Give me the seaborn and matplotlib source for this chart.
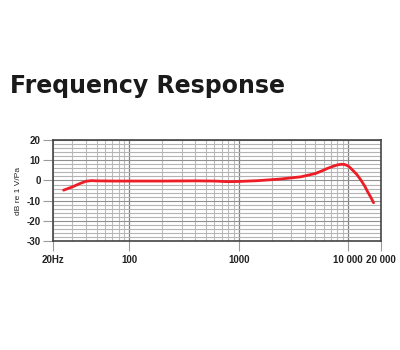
import numpy as np
import pandas as pd
import seaborn as sns
import matplotlib.pyplot as plt
from matplotlib.ticker import FixedLocator, NullFormatter

# frequency response
freq_hz = [25, 30, 35, 40, 45, 50, 70, 100, 200, 400, 600, 800, 1000, 1500, 2400,
           3700, 5000, 5800, 6500, 7300, 8000, 8700, 9300, 10000, 10600, 12000, 13100,
           14200, 15100, 16200, 17100]
level_db = [-4.8, -3.2, -1.6, -0.4, -0.1, -0.2, -0.3, -0.3, -0.3, -0.2, -0.3, -0.6, -0.5, -0.1, 0.7,
            1.8, 3.4, 4.8, 6.0, 7.0, 7.7, 8.0, 7.9, 7.2, 6.0, 3.0, 0.2,
            -2.8, -5.6, -8.5, -11.0]

x_ticks = [20, 100, 1000, 10000, 20000]
x_labels = ["20Hz", "100", "1000", "10 000", "20 000"]
y_ticks = [-30, -20, -10, 0, 10, 20]

df = pd.DataFrame({"freq": freq_hz, "db": level_db})

sns.set_style("white")
plt.rcParams["axes.unicode_minus"] = False
plt.rcParams["font.family"] = ["Liberation Sans", "DejaVu Sans"]

fig = plt.figure(figsize=(4, 3.5), dpi=100)
ax = fig.add_axes([0.1325, 0.311, 0.82, 0.289])

# grid: minor lines light, decades darker
minor_x = [m * d for d in (10, 100, 1000) for m in range(2, 10)] + [20000]
for x in minor_x:
    ax.axvline(x, color="#bcbcbc", lw=0.8, zorder=0)
for x in (100, 1000, 10000):
    ax.axvline(x, color="#808080", lw=0.9, zorder=0)
for y in range(-30, 21, 2):
    ax.axhline(y, color="#b4b4b4" if y % 10 else "#909090", lw=0.8, zorder=0)

sns.lineplot(data=df, x="freq", y="db", color="#ee1c25", lw=2.0, sort=False, ax=ax, zorder=3)

ax.set_xscale("log")
ax.set_xlim(20, 20000)
ax.set_ylim(-30, 20)
ax.xaxis.set_major_locator(FixedLocator(x_ticks))
ax.set_xticklabels(x_labels)
ax.xaxis.set_minor_formatter(NullFormatter())
ax.xaxis.set_minor_locator(FixedLocator([]))
ax.set_yticks(y_ticks)
ax.tick_params(axis="both", which="major", direction="out", length=7, width=0.8,
               color="#9a9a9a", labelsize=7, labelcolor="#222222",
               bottom=True, left=True)
ax.tick_params(axis="x", pad=3)
ax.tick_params(axis="y", pad=2)
for lab in ax.get_xticklabels() + ax.get_yticklabels():
    lab.set_fontweight("bold")

ax.set_xlabel("")
ax.set_ylabel("dB re 1 V/Pa", fontsize=6, color="#222222", labelpad=3)

for sp in ax.spines.values():
    sp.set_color("#444444")
    sp.set_linewidth(1.2)

fig.text(0.025, 0.755, "Frequency Response", fontsize=17, fontweight="bold",
         color="#1a1a1a", va="center", ha="left", family=["DejaVu Sans"])

fig.savefig("out.png", dpi=100, facecolor="white")
